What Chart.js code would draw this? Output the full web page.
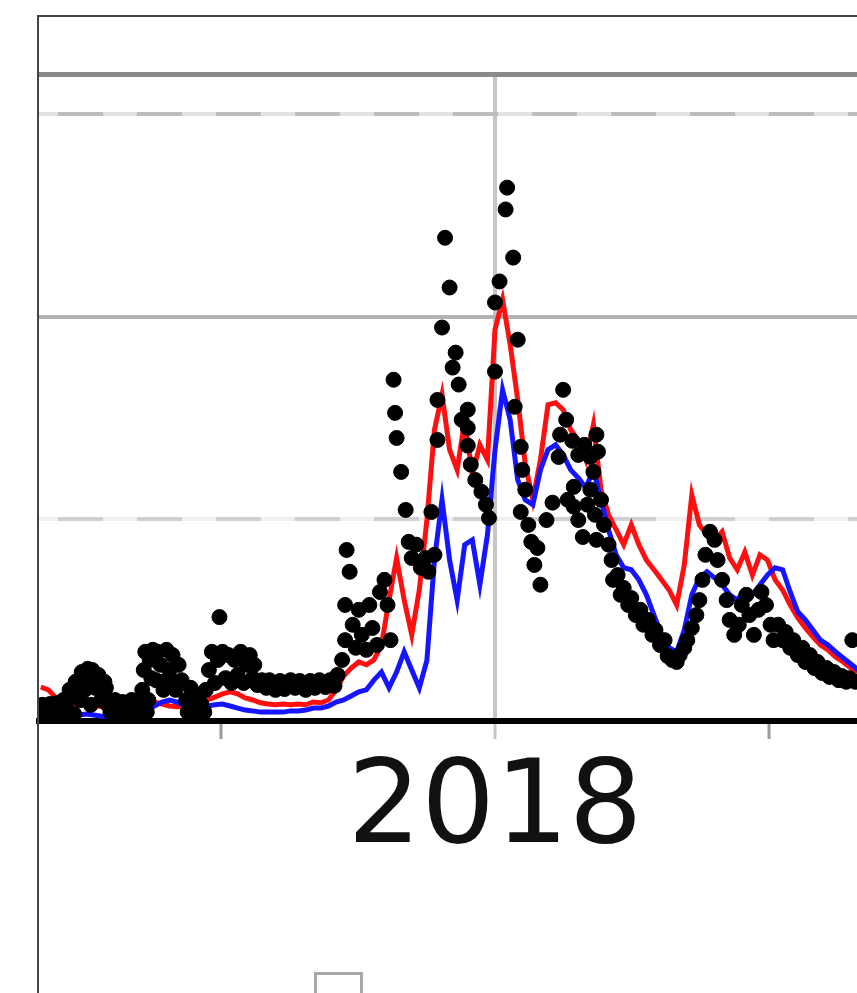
<!DOCTYPE html>
<html><head><meta charset="utf-8">
<script src="https://cdn.jsdelivr.net/npm/chart.js@4/dist/chart.umd.min.js"></script>
<style>html,body{margin:0;padding:0;background:#fff;overflow:hidden}</style>
</head><body>
<canvas id="c" width="857" height="993"></canvas>
<script>
// x values are days relative to 2018-01-01
const modelDays = [-300,-295,-290,-285,-280,-275,-270,-265,-260,-255,-250,-245,-240,-235,-230,-225,-220,-215,-210,-205,-200,-195,-190,-185,-180,-175,-170,-165,-160,-155,-150,-145,-140,-135,-130,-125,-120,-115,-110,-105,-100,-95,-90,-85,-80,-75,-70,-65,-60,-55,-50,-45,-40,-35,-30,-25,-20,-15,-10,-5,0,5,10,15,20,25,30,35,40,45,50,55,60,65,70,75,80,85,90,95,100,105,110,115,120,125,130,135,140,145,150,155,160,165,170,175,180,185,190,195,200,205,210,215,220,225,230,235,240];
const redValues = [8.4,7.7,5.7,4.2,3.7,3.7,4.2,4.0,3.5,3.2,3.5,3.2,3.2,3.7,4.2,4.7,4.2,3.7,3.5,3.7,4.0,4.2,5.2,5.9,6.7,7.2,6.7,5.7,5.2,4.5,4.2,4.0,4.2,4.0,4.2,4.0,4.7,4.5,5.2,7.7,11.1,13.1,14.6,13.9,15.1,18.8,29.9,40.3,29.9,21.3,32.4,49.7,72.0,80.7,67.1,62.1,74.5,60.9,68.3,64.6,96.8,104.2,93.1,79.4,63.4,54.7,64.6,78.2,78.7,77.0,72.0,69.5,64.6,73.3,57.2,51.0,47.3,43.6,48.5,43.6,39.8,37.4,34.9,32.4,28.7,38.6,55.9,48.5,46.0,44.8,46.8,40.3,37.4,41.8,36.1,41.1,39.8,34.9,32.4,28.7,25.5,23.0,20.8,18.8,17.6,15.8,14.6,13.1,12.1];
const blueValues = [2.0,1.7,1.5,1.2,1.2,1.5,1.7,1.5,1.2,1.2,1.2,1.2,1.2,1.7,2.7,3.7,4.7,5.2,4.7,3.7,3.2,3.2,3.7,4.0,4.2,3.7,3.2,2.7,2.5,2.2,2.2,2.2,2.2,2.5,2.5,2.7,3.2,3.2,3.7,4.7,5.2,6.2,7.2,7.7,10.1,12.1,8.2,12.1,17.1,12.6,8.2,15.0,39.8,54.7,39.8,29.9,43.6,44.8,33.7,46.0,67.1,81.9,74.5,59.6,54.7,53.5,62.1,67.1,68.3,65.8,62.1,60.1,57.7,62.1,54.7,47.3,41.1,37.9,37.4,34.9,31.2,26.2,21.3,18.1,17.1,22.5,31.2,35.4,36.9,35.4,33.7,31.2,29.9,32.4,31.2,33.7,36.1,37.9,37.4,31.9,27.0,25.0,22.5,20.0,18.8,17.1,15.6,14.1,12.6];
const obsDays = [-301,-298,-295,-293,-290,-287,-285,-282,-281,-278,-277,-274,-273,-271,-269,-267,-266,-264,-262,-260,-258,-256,
 -299,-294,-289,-284,-280,-275,-272,-268,-264,-261,-257,-255,-252,-249,-247,-244,-242,-239,-236,-234,
 -254,-251,-248,-246,-243,-240,-238,-235,
 -233,-232,-231,-230,-229,-228,-227,-226,-224,-223,-221,-220,-219,-217,-215,-214,-213,-211,-209,
 -207,-204,-203,-201,-199,-198,-196,-194,-192,
 -191,-189,-187,-185,-183,-182,-180,-178,-176,-174,-172,-170,-168,-166,-164,-162,-160,-159,-157,
 -154,-151,-149,-145,-142,-139,-135,-132,-129,-125,-122,-119,-116,-112,-109,-106,-104,
 -101,-99,-99,-98,-96,-94,-92,-90,-88,-85,-83,-81,-78,-76,-73,-71,-69,-67,-66,-65,-62,-59,-57,-55,-52,-49,-46,-44,-42,-40,-38,-38,
 -35,-33,-30,-28,-26,-24,-22,-18,-18,-18,-16,-13,-9,-6,-4,0,0,3,7,8,12,13,15,17,18,20,17,22,24,28,26,30,34,38,42,43,45,47,48,52,52,55,58,63,65,67,68,70,72,75,77,78,
 51,55,59,61,63,66,67,
 81,83,85,88,90,93,96,98,101,104,106,109,112,114,117,120,122,125,127,130,133,135,137,139,142,145,147,150,153,155,158,161,163,166,168,171,174,176,179,182,184,187,190,192,195,197,200,203,205,208,211,213,216,219,221,224,227,229,232,234,236,238];
const obsValues = [2.7,1.2,2.5,1.5,3.0,1.7,5.2,2.2,7.7,1.7,9.7,5.2,12.1,7.7,12.9,4.0,12.6,8.2,11.4,5.2,9.7,5.4,
 4.0,4.2,4.5,3.2,5.7,7.7,10.1,8.9,11.1,7.7,8.2,3.7,1.2,3.7,1.2,3.7,1.2,4.0,1.2,2.2,
 2.2,5.2,2.5,4.7,2.0,5.2,2.7,4.0,
 7.7,12.6,17.1,2.2,5.2,15.1,10.6,17.6,10.1,17.1,13.9,9.7,7.7,17.6,12.6,10.1,16.3,7.7,13.9,
 10.1,5.2,2.2,8.2,3.7,1.7,6.4,4.2,2.2,
 7.7,12.6,17.1,9.4,15.1,25.7,17.1,10.6,16.3,9.4,15.1,11.4,17.1,9.4,13.9,16.3,10.6,13.9,8.9,
 10.1,8.2,10.1,7.7,9.9,7.9,10.1,8.2,9.9,7.7,9.9,8.2,10.1,8.4,10.1,8.7,11.4,
 15.1,20.0,28.7,42.3,36.9,23.8,18.1,27.5,21.3,17.6,28.7,23.0,18.8,31.9,34.9,28.7,20.0,84.4,76.2,70.0,61.6,52.2,44.3,40.3,43.6,37.9,40.3,36.9,51.7,41.1,79.4,69.5,
 97.3,119.5,107.2,87.4,91.1,83.2,74.5,77.0,72.5,68.1,63.4,59.6,56.7,53.5,50.2,103.5,86.4,108.7,126.5,131.9,114.6,77.7,94.3,67.8,62.1,57.2,51.7,48.5,44.3,42.8,38.6,33.7,49.7,54.0,65.3,70.8,81.9,74.5,54.7,57.9,53.0,49.7,45.5,65.3,61.6,70.8,66.6,54.7,48.5,43.6,39.8,34.9,
 69.3,65.8,68.3,53.5,57.2,51.0,44.8,
 36.1,31.2,32.9,28.7,30.4,26.2,27.5,23.8,25.0,21.3,22.5,18.8,20.0,16.1,15.1,14.6,16.3,18.1,20.0,23.0,26.2,29.9,34.9,41.1,46.8,44.8,39.8,34.9,29.9,25.0,21.3,23.8,28.7,31.2,26.2,21.3,27.5,31.9,28.7,23.8,20.0,23.8,20.0,22.0,18.1,20.0,16.3,18.1,14.6,16.3,13.1,14.6,11.9,13.1,10.9,12.1,10.1,11.1,9.7,10.6,20.0,9.7];
const xTickDays = [-181, 0, 181];
const xTickLabels = ['', '2018', ''];
const yGridValues = [0, 49.999, 50, 100, 149.999, 150, 160];

const toPts = (xs, ys) => xs.map((x, i) => ({x: x, y: ys[i]}));

const framePlugin = {
  id: 'frame',
  afterDraw(chart) {
    const c = chart.ctx;
    c.save();
    c.strokeStyle = '#444';
    c.lineWidth = 2;
    c.beginPath();
    c.moveTo(38, chart.height);
    c.lineTo(38, 16);
    c.lineTo(chart.width, 16);
    c.stroke();
    c.strokeStyle = '#a8a8a8';
    c.lineWidth = 3;
    c.strokeRect(315.5, 973.5, 46, 46);
    c.restore();
  }
};

function yGridColor(v) {
  if (v === 160) return '#8a8a8a';
  if (v === 150) return '#bdbdbd';
  if (v === 149.999) return '#e2e2e2';
  if (v === 100) return '#b2b2b2';
  if (v === 50) return '#d0d0d0';
  if (v === 49.999) return '#efefef';
  return 'rgba(0,0,0,0)';
}

new Chart(document.getElementById('c'), {
  type: 'scatter',
  data: {
    datasets: [
      {label: 'Observed', data: toPts(obsDays, obsValues), showLine: false,
       pointRadius: 7.5, pointHoverRadius: 7.5, pointBackgroundColor: '#000', pointBorderColor: '#000', pointBorderWidth: 1, order: 0},
      {label: 'Model (blue)', data: toPts(modelDays, blueValues), showLine: true,
       borderColor: '#1515ff', borderWidth: 5, pointRadius: 0, tension: 0, order: 1},
      {label: 'Model (red)', data: toPts(modelDays, redValues), showLine: true,
       borderColor: '#ff1010', borderWidth: 5, pointRadius: 0, tension: 0, order: 2}
    ]
  },
  options: {
    responsive: false,
    animation: false,
    events: [],
    layout: {autoPadding: false, padding: {left: 39, top: 74, right: 0, bottom: 0}},
    plugins: {legend: {display: false}, tooltip: {enabled: false}},
    scales: {
      x: {
        type: 'linear', min: -301.2, max: 239.1,
        afterBuildTicks: s => { s.ticks = xTickDays.map(v => ({value: v})); },
        afterFit: s => { s.height = 272; s.paddingLeft = 0; s.paddingRight = 0; },
        grid: {
          color: c => (c.tick && c.tick.value === 0) ? '#c6c6c6' : 'rgba(0,0,0,0)',
          lineWidth: 4,
          tickColor: c => (c.tick && c.tick.value === 0) ? '#c6c6c6' : '#9a9a9a',
          tickWidth: 3, tickLength: 18, drawTicks: true
        },
        border: {display: true, color: '#000', width: 6},
        ticks: {
          autoSkip: false, maxRotation: 0, minRotation: 0, padding: 3, color: '#111',
          font: {family: 'DejaVu Sans', size: 116, lineHeight: 1.2},
          callback: v => { const i = xTickDays.indexOf(v); return i >= 0 ? xTickLabels[i] : ''; }
        }
      },
      y: {
        min: 0, max: 160,
        afterBuildTicks: s => { s.ticks = yGridValues.map(v => ({value: v})); },
        afterFit: s => { s.width = 0; s.paddingTop = 0; s.paddingBottom = 0; },
        ticks: {display: false},
        grid: {
          drawTicks: false,
          color: c => yGridColor(c.tick ? c.tick.value : -1),
          lineWidth: c => (c.tick && c.tick.value === 160) ? 5 : 4
        },
        border: {
          display: false,
          dash: c => (c.tick && (c.tick.value === 50 || c.tick.value === 150)) ? [45, 34] : [],
          dashOffset: 60
        }
      }
    }
  },
  plugins: [framePlugin]
});
</script>
</body></html>
